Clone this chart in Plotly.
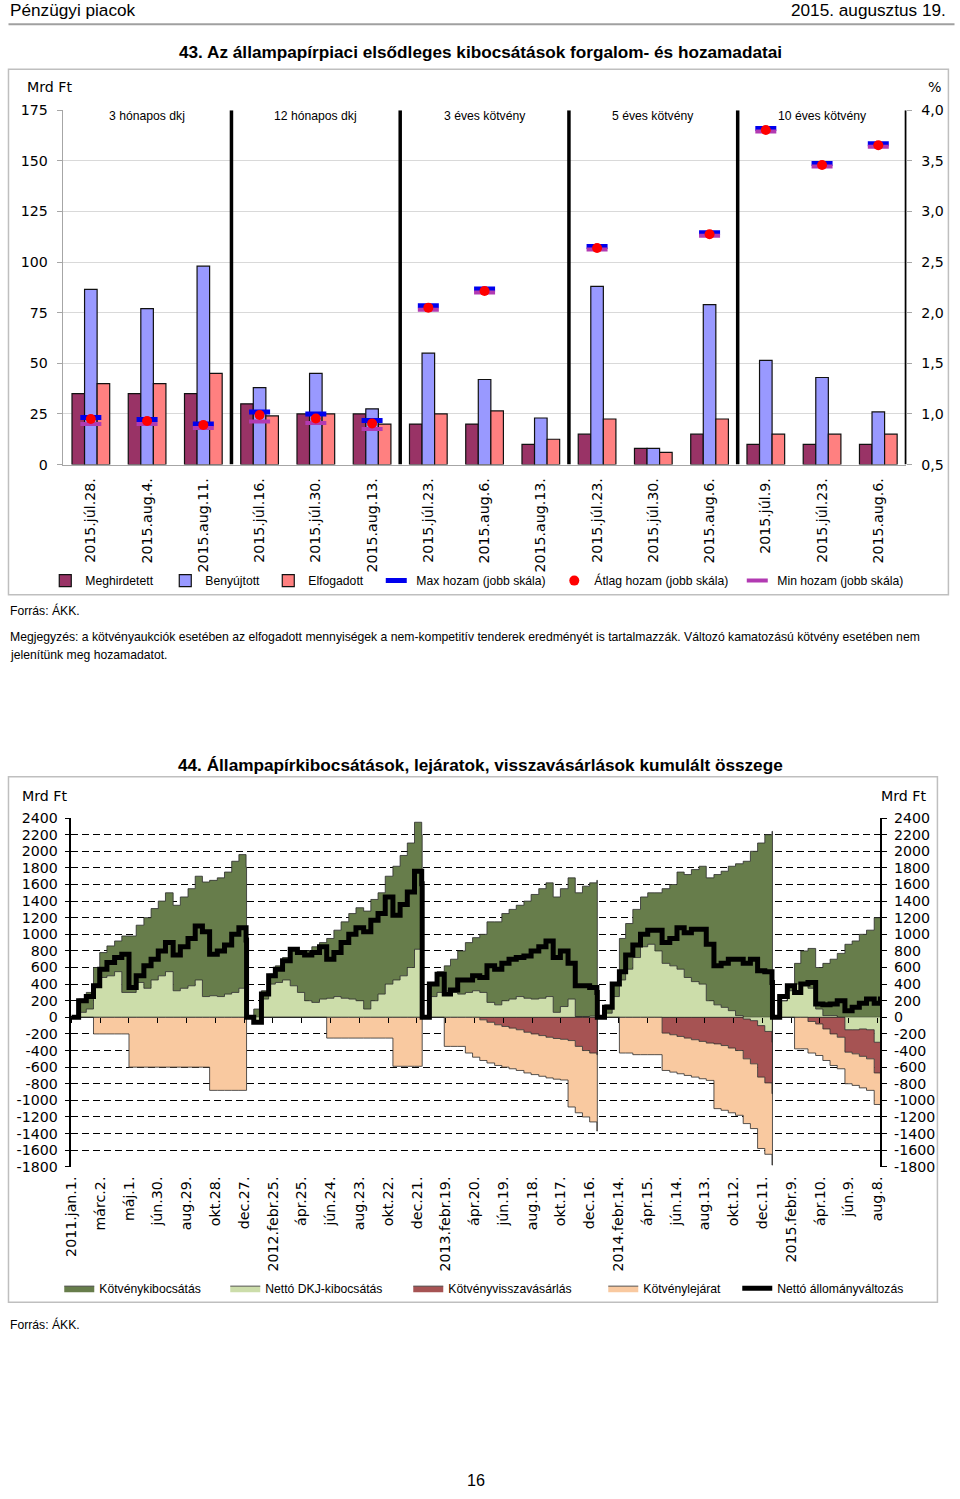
import pandas as pd
import plotly.graph_objects as go

W, H = 960, 1499
# a kép a böngészőben kissé kicsinyítve és eltolva jelenik meg:
# képernyő = eltolás + arány * rajz; a referencia-koordinátákat visszaszámoljuk
SX, OX = 0.9868, 7.26
SY, OY = 0.9886, 8.8
FS = 1 / SX


def px(x):
    return min(max((x - OX) / SX, 0.5), W - 0.5) / W


def py(y):
    return 1 - min(max((y - OY) / SY, 0.5), H - 0.5) / H


def f(size):
    return round(size * FS, 1)


# ---------------------------------------------------------------------------
# 43. ábra: aukciók (Mrd Ft, %)
# ---------------------------------------------------------------------------
aukcio_datum = ["2015.júl.28.", "2015.aug.4.", "2015.aug.11.",
                "2015.júl.16.", "2015.júl.30.", "2015.aug.13.",
                "2015.júl.23.", "2015.aug.6.", "2015.aug.13.",
                "2015.júl.23.", "2015.júl.30.", "2015.aug.6.",
                "2015.júl.9.", "2015.júl.23.", "2015.aug.6."]
futamido = ["3 hónapos dkj", "12 hónapos dkj", "3 éves kötvény",
            "5 éves kötvény", "10 éves kötvény"]
meghirdetett = [35, 35, 35, 30, 25, 25, 20, 20, 10, 15, 8, 15, 10, 10, 10]
benyujtott = [86.5, 77, 98, 38, 45, 27.5, 55, 42, 23, 88, 8, 79, 51.5, 43, 26]
elfogadott = [40, 40, 45, 24, 25, 20, 25, 26.5, 12.5, 22.5, 6, 22.5, 15, 15, 15]
max_hozam = [0.965, 0.945, 0.90, 1.02, 1.00, 0.935, 2.07, 2.235, None,
             2.655, None, 2.79, 3.82, 3.475, 3.67]
atlag_hozam = [0.95, 0.93, 0.89, 0.99, 0.955, 0.905, 2.05, 2.215, None,
               2.64, None, 2.775, 3.805, 3.46, 3.655]
min_hozam = [0.90, 0.90, 0.86, 0.925, 0.91, 0.85, 2.03, 2.20, None,
             2.625, None, 2.76, 3.79, 3.445, 3.64]
bal_tengely = [0, 25, 50, 75, 100, 125, 150, 175]
jobb_tengely = [0.5, 1.0, 1.5, 2.0, 2.5, 3.0, 3.5, 4.0]

# ---------------------------------------------------------------------------
# 44. ábra: kumulált összegek (Mrd Ft), félhavi pontok, évente nulláról
# ---------------------------------------------------------------------------
evek = [2011, 2012, 2013, 2014, 2015]
kotvenykibocsatas = [
    0, 160, 200, 200, 300, 360, 370, 680, 680, 690, 850, 860, 900, 950, 1030, 1100, 1170, 1250, 1380, 1390, 1430, 1470, 1580, 1610, 1610,
    0, 100, 100, 120, 200, 270, 440, 480, 600, 670, 680, 720, 800, 920, 1030, 1120, 1180, 1220, 1220, 1300, 1370, 1450, 1500, 1530, 1550,
    0, 170, 250, 300, 400, 520, 600, 640, 700, 970, 1000, 1050, 1080, 1100, 1170, 1260, 1320, 1370, 1390, 1420, 1460, 1490, 1570, 1605, 1640,
    0, 100, 150, 500, 550, 580, 600, 620, 700, 900, 980, 1170, 1240, 1350, 1420, 1480, 1570, 1640, 1740, 1830, 1880, 2000, 2100, 2200, 2240,
    0, 0, 60, 250, 400, 480, 500, 630, 680, 770, 880, 920, 1000, 1050, 1200, 1280,
]
netto_dkj = [
    0, 60, 100, 400, 480, 500, 550, 300, 300, 420, 350, 450, 500, 550, 320, 350, 380, 450, 250, 260, 250, 280, 300, 350, 200,
    0, -60, 220, 400, 420, 450, 380, 300, 200, 180, 220, 230, 250, 230, 220, 200, 100, 200, 280, 400, 450, 500, 600, 820, 650,
    0, 250, 300, 320, 300, 280, 300, 320, 300, 180, 150, 200, 220, 250, 230, 220, 230, 250, 60, 130, 220, 10, 10, 15, 10,
    0, 50, 250, 450, 580, 720, 850, 880, 800, 650, 620, 580, 480, 430, 400, 200, 150, 120, 80, 20, -20, -40, -100, -170, -300,
    0, 200, 320, 400, 400, 350, 100, 20, 20, 0, -150, -150, -140, -150, -300, -300,
]
visszavasarlas = [
    0, 0, 0, 0, 0, 0, 0, 0, 0, 0, 0, 0, 0, 0, 0, 0, 0, 0, 0, 0, 0, 0, 0, 0, 0,
    0, 0, 0, 0, 0, 0, 0, 0, 0, 0, 0, 0, 0, 0, 0, 0, 0, 0, 0, 0, 0, 0, 0, 0, 0,
    0, 0, 0, 0, 0, 0, 0, 0, -30, -60, -90, -110, -130, -150, -180, -200, -220, -240, -255, -265, -280, -350, -400, -430, -450,
    0, 0, 0, 0, 0, 0, 0, 0, 0, -190, -210, -230, -250, -270, -290, -310, -320, -340, -370, -400, -480, -520, -620, -620, -620,
    0, 0, 0, 0, 0, -50, -80, -140, -200, -240, -270, -290, -330, -350, -370, -390,
]
lejarat = [
    0, 0, 0, -200, -200, -200, -200, -200, -600, -600, -600, -600, -600, -600, -600, -600, -600, -600, -600, -880, -880, -880, -880, -880, -880,
    0, 0, 0, 0, 0, 0, 0, 0, 0, 0, 0, -250, -250, -250, -250, -250, -250, -250, -250, -250, -590, -590, -590, -590, -590,
    0, 0, 0, -350, -350, -350, -430, -480, -490, -490, -490, -490, -490, -490, -490, -490, -490, -490, -490, -490, -800, -800, -800, -830, -920,
    0, 0, 0, -430, -430, -450, -450, -450, -450, -450, -450, -450, -450, -450, -450, -450, -780, -780, -780, -780, -780, -780, -860, -860, -860,
    0, 0, 0, -380, -380, -380, -380, -380, -380, -380, -380, -380, -380, -380, -380, -380,
]
netto_valtozas = [
    0, 200, 250, 380, 580, 660, 720, 760, 360, 500, 620, 700, 800, 900, 750, 850, 950, 1100, 1030, 760, 800, 870, 1000, 1080, 930,
    0, -60, 280, 500, 580, 680, 820, 780, 750, 780, 850, 700, 780, 900, 1000, 1080, 1030, 1170, 1250, 1450, 1230, 1360, 1510, 1760, 1610,
    0, 400, 520, 280, 330, 450, 450, 500, 480, 620, 580, 650, 700, 720, 740, 800, 850, 920, 720, 800, 650, 380, 380, 360, 300,
    0, 120, 400, 550, 750, 870, 1000, 1050, 1050, 900, 950, 1080, 1020, 1060, 1060, 880, 620, 650, 700, 700, 650, 700, 560, 550, 420,
    0, 250, 380, 300, 400, 420, 160, 150, 160, 200, 80, 120, 170, 220, 170, 250,
]
idotengely_cimkek = ["2011.jan.1.", "márc.2.", "máj.1.", "jún.30.", "aug.29.", "okt.28.",
                     "dec.27.", "2012.febr.25.", "ápr.25.", "jún.24.", "aug.23.", "okt.22.",
                     "dec.21.", "2013.febr.19.", "ápr.20.", "jún.19.", "aug.18.", "okt.17.",
                     "dec.16.", "2014.febr.14.", "ápr.15.", "jún.14.", "aug.13.", "okt.12.",
                     "dec.11.", "2015.febr.9.", "ápr.10.", "jún.9.", "aug.8."]
mrd_tengely = list(range(-1800, 2401, 200))

# félhavi dátumrács (1. és 16.), év végén záró pont
datumok = []
for ev in evek:
    utolso_ho = 8 if ev == 2015 else 12
    for ho in range(1, utolso_ho + 1):
        for nap in (1, 16):
            if ev == 2015 and ho == 8 and nap == 16:
                continue
            datumok.append(f"{ev}-{ho:02d}-{nap:02d}")
    datumok.append("2015-08-14" if ev == 2015 else f"{ev}-12-31")

# halmozás: pozitív oldal felfelé, negatív oldal lefelé
dkj_pos = [max(v, 0) for v in netto_dkj]
dkj_neg = [min(v, 0) for v in netto_dkj]
kotveny_felso = [a + b for a, b in zip(dkj_pos, kotvenykibocsatas)]
vissza_also = [a + b for a, b in zip(dkj_neg, visszavasarlas)]
lejarat_also = [a + b for a, b in zip(vissza_also, lejarat)]

fig = go.Figure()

# --- 43. ábra oszlopok ---
kat = list(range(len(aukcio_datum)))
oszlopok = [("Meghirdetett", meghirdetett, "#993366", 75),
            ("Benyújtott", benyujtott, "#9999FF", 58),
            ("Elfogadott", elfogadott, "#FF8080", 63)]
for i, (nev, ertek, szin, lw) in enumerate(oszlopok):
    fig.add_trace(go.Bar(
        x=kat, y=ertek, name=nev, marker_color=szin,
        marker_line=dict(color="#111111", width=1.2),
        xaxis="x", yaxis="y", legend="legend", legendrank=i + 1,
        legendwidth=lw, hoverinfo="skip",
    ))

fig.add_trace(go.Scatter(
    x=kat, y=max_hozam, mode="markers", name="Max hozam (jobb skála)",
    marker=dict(symbol="line-ew", size=15, line=dict(color="#0000EE", width=5)),
    xaxis="x", yaxis="y2", legend="legend", legendrank=4, legendwidth=133,
))
fig.add_trace(go.Scatter(
    x=kat, y=min_hozam, mode="markers", name="Min hozam (jobb skála)",
    marker=dict(symbol="line-ew", size=15, line=dict(color="#B23AB2", width=4)),
    xaxis="x", yaxis="y2", legend="legend", legendrank=6, legendwidth=130,
))
fig.add_trace(go.Scatter(
    x=kat, y=atlag_hozam, mode="markers", name="Átlag hozam (jobb skála)",
    marker=dict(symbol="circle", size=10, color="#FF0000"),
    xaxis="x", yaxis="y2", legend="legend", legendrank=5, legendwidth=138,
))

# --- 44. ábra területek ---
VONAL = dict(color="#2b2b2b", width=0.8, shape="hv")
fig.add_trace(go.Scatter(
    x=datumok, y=dkj_pos, mode="lines", name="Nettó DKJ-kibocsátás",
    fill="tozeroy", fillcolor="#CCDDAA", line=VONAL,
    xaxis="x2", yaxis="y3", legend="legend2", legendrank=2, legendwidth=138,
    hoverinfo="skip",
))
fig.add_trace(go.Scatter(
    x=datumok, y=kotveny_felso, mode="lines", name="Kötvénykibocsátás",
    fill="tonexty", fillcolor="#677D4B", line=VONAL,
    xaxis="x2", yaxis="y3", legend="legend2", legendrank=1, legendwidth=121,
    hoverinfo="skip",
))
fig.add_trace(go.Scatter(
    x=datumok, y=dkj_neg, mode="lines", name="Nettó DKJ-kibocsátás",
    fill="tozeroy", fillcolor="#CCDDAA", line=VONAL, showlegend=False,
    xaxis="x2", yaxis="y3", hoverinfo="skip",
))
fig.add_trace(go.Scatter(
    x=datumok, y=vissza_also, mode="lines", name="Kötvényvisszavásárlás",
    fill="tonexty", fillcolor="#A65353", line=VONAL,
    xaxis="x2", yaxis="y3", legend="legend2", legendrank=3, legendwidth=150,
    hoverinfo="skip",
))
fig.add_trace(go.Scatter(
    x=datumok, y=lejarat_also, mode="lines", name="Kötvénylejárat",
    fill="tonexty", fillcolor="#F9C9A0", line=VONAL,
    xaxis="x2", yaxis="y3", legend="legend2", legendrank=4, legendwidth=89,
    hoverinfo="skip",
))
fig.add_trace(go.Scatter(
    x=datumok, y=netto_valtozas, mode="lines", name="Nettó állományváltozás",
    line=dict(color="#000000", width=5, shape="hv"),
    xaxis="x2", yaxis="y3", legend="legend2", legendrank=5, legendwidth=150,
    hoverinfo="skip",
))
# üres nyomvonalak a jobb tengelyhez és a nullvonali osztásokhoz
fig.add_trace(go.Scatter(x=[None], y=[None], xaxis="x2", yaxis="y4",
                         showlegend=False, hoverinfo="skip"))
fig.add_trace(go.Scatter(x=[None], y=[None], xaxis="x3", yaxis="y3",
                         showlegend=False, hoverinfo="skip"))

# --- tengelyek ---
TICKFONT = dict(family="DejaVu Sans", size=f(14), color="#000000")
dom43 = [py(465), py(111)]
dom44 = [py(1166.7), py(818.3)]
rng44 = [mrd_tengely[0], mrd_tengely[-1]]
null_pos = dom44[0] + (0 - rng44[0]) / (rng44[1] - rng44[0]) * (dom44[1] - dom44[0])
tickdates = pd.date_range("2011-01-01", periods=len(idotengely_cimkek), freq="60D")
drange = ["2011-01-01", "2015-08-14"]
LEGEND = dict(orientation="h", xanchor="left", yanchor="middle",
              font=dict(family="Liberation Sans", size=f(12)),
              bgcolor="rgba(0,0,0,0)", itemwidth=30, tracegroupgap=0,
              traceorder="normal", itemclick=False)
SZOVEG_TAV = 41  # a jelmagyarázat bal széle és az első felirat közti távolság


def leg_x(szoveg_kezdet):
    return ((szoveg_kezdet - OX) / SX - SZOVEG_TAV) / W


fig.update_layout(
    width=W, height=H, autosize=False,
    margin=dict(l=0, r=0, t=0, b=0),
    paper_bgcolor="white", plot_bgcolor="white",
    barmode="group", bargap=0.33, bargroupgap=0,
    font=dict(family="Liberation Sans", size=f(12), color="#000000"),
    showlegend=True,
    xaxis=dict(domain=[px(62), px(906)], anchor="y", range=[-0.5, 14.5],
               tickmode="array", tickvals=kat, ticktext=aukcio_datum,
               tickangle=-90, tickfont=TICKFONT, ticks="",
               showline=True, linecolor="#A6A6A6", linewidth=1,
               showgrid=False, zeroline=False, ticklabelstandoff=7),
    yaxis=dict(domain=dom43, anchor="x", range=[0, 175],
               tickmode="array", tickvals=bal_tengely,
               ticktext=[str(v) for v in bal_tengely],
               tickfont=TICKFONT, showgrid=True, gridcolor="#D9D9D9",
               ticks="outside", ticklen=5, tickcolor="#A6A6A6",
               showline=True, linecolor="#A6A6A6", zeroline=False,
               ticklabelstandoff=6),
    yaxis2=dict(overlaying="y", side="right", anchor="x", range=[0.5, 4.0],
                tickmode="array", tickvals=jobb_tengely,
                ticktext=[f"{v:.1f}".replace(".", ",") for v in jobb_tengely],
                tickfont=TICKFONT, showgrid=False, zeroline=False,
                ticks="outside", ticklen=5, tickcolor="#A6A6A6",
                showline=False, ticklabelstandoff=6),
    xaxis2=dict(domain=[px(70.7), px(880)], anchor="y3", type="date",
                range=drange, tickmode="array", tickvals=tickdates,
                ticktext=idotengely_cimkek, tickangle=-90, tickfont=TICKFONT,
                ticks="", showgrid=False, showline=False, zeroline=False,
                ticklabelstandoff=6),
    xaxis3=dict(overlaying="x2", anchor="free", position=null_pos, type="date",
                range=drange, tickmode="array", tickvals=tickdates,
                showticklabels=False, ticks="outside", ticklen=5,
                tickcolor="#000000", showgrid=False, showline=False,
                zeroline=False),
    yaxis3=dict(domain=dom44, anchor="x2", range=rng44,
                tickmode="array", tickvals=mrd_tengely,
                ticktext=[str(v) for v in mrd_tengely], tickfont=TICKFONT,
                showgrid=True, gridcolor="#000000", gridwidth=1,
                griddash="7px,4px", zeroline=True, zerolinecolor="#000000",
                zerolinewidth=1.5, showline=True, linecolor="#000000",
                linewidth=1.5, ticks="outside", ticklen=5,
                tickcolor="#000000", ticklabelstandoff=4),
    yaxis4=dict(overlaying="y3", side="right", anchor="x2", range=rng44,
                tickmode="array", tickvals=mrd_tengely,
                ticktext=[str(v) for v in mrd_tengely], tickfont=TICKFONT,
                showgrid=False, zeroline=False, showline=True,
                linecolor="#000000", linewidth=1.5, ticks="outside",
                ticklen=5, tickcolor="#000000", ticklabelstandoff=4),
    legend=dict(LEGEND, x=leg_x(85), y=py(581)),
    legend2=dict(LEGEND, x=leg_x(99), y=py(1288)),
)

# --- keretek, elválasztók ---
shapes = [
    dict(type="line", xref="paper", yref="paper", x0=px(5), x1=px(955),
         y0=py(25), y1=py(25), line=dict(color="#A0A0A0", width=2)),
    dict(type="rect", xref="paper", yref="paper", x0=px(5), x1=px(948),
         y0=py(595), y1=py(70), line=dict(color="#BFBFBF", width=1.5)),
    dict(type="rect", xref="paper", yref="paper", x0=px(7), x1=px(937),
         y0=py(1302), y1=py(777), line=dict(color="#BFBFBF", width=1.5)),
]
for g in range(len(futamido)):
    hatar = g * 3 + 2.5
    shapes.append(dict(type="line", xref="x", yref="y", x0=hatar, x1=hatar,
                       y0=0, y1=175, line=dict(color="#000000", width=3.5)))
fig.update_layout(shapes=shapes)


# --- szövegek ---
def szoveg(x, y, t, size=12, anchor="left", bold=False, family="Liberation Sans",
           yanchor="middle"):
    fig.add_annotation(
        x=px(x), y=py(y), xref="paper", yref="paper", text=f"<b>{t}</b>" if bold else t,
        showarrow=False, xanchor=anchor, yanchor=yanchor,
        font=dict(family=family, size=f(size), color="#000000"),
    )


szoveg(5, 11, "Pénzügyi piacok", size=17)
szoveg(948, 11, "2015. augusztus 19.", size=17, anchor="right")
szoveg(480, 53, "43. Az állampapírpiaci elsődleges kibocsátások forgalom- és hozamadatai",
       size=17, anchor="center", bold=True)
szoveg(24, 88, "Mrd Ft", size=14, family="DejaVu Sans")
szoveg(943, 88, "%", size=14, anchor="right", family="DejaVu Sans")
for g, nev in enumerate(futamido):
    fig.add_annotation(x=g * 3 + 1, y=py(117), xref="x", yref="paper", text=nev,
                       showarrow=False, xanchor="center", yanchor="middle",
                       font=dict(family="Liberation Sans", size=f(12), color="#000000"))
szoveg(6, 611, "Forrás: ÁKK.", size=12)
szoveg(6, 637, "Megjegyzés: a kötvényaukciók esetében az elfogadott mennyiségek a nem-kompetitív "
       "tenderek eredményét is tartalmazzák. Változó kamatozású kötvény esetében nem", size=12)
szoveg(6, 655, "jelenítünk meg hozamadatot.", size=12)
szoveg(480, 765, "44. Állampapírkibocsátások, lejáratok, visszavásárlások kumulált összege",
       size=17, anchor="center", bold=True)
szoveg(19, 796, "Mrd Ft", size=14, family="DejaVu Sans")
szoveg(929, 796, "Mrd Ft", size=14, anchor="right", family="DejaVu Sans")
szoveg(6, 1324, "Forrás: ÁKK.", size=12)
szoveg(475, 1500, "16", size=16, anchor="center", yanchor="bottom")

fig.write_html("out.html", config={"displayModeBar": False},
               post_script="document.body.style.margin='0px';")
